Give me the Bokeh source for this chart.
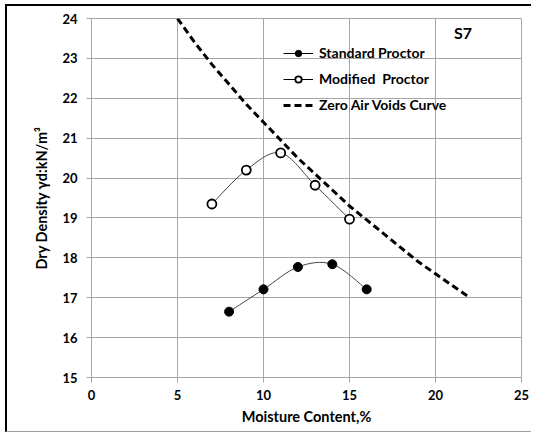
from bokeh.plotting import figure
from bokeh.models import (ColumnDataSource, Legend, LegendItem, Label,
                          FixedTicker, Range1d)
from bokeh.embed import file_html
from bokeh.resources import INLINE

# ---- data ----
std_w = [8, 10, 12, 14, 16]
std_d = [16.65, 17.21, 17.77, 17.84, 17.21]
mod_w = [7, 9, 11, 13, 15]
mod_d = [19.35, 20.20, 20.63, 19.82, 18.97]
zav_w = [5, 6, 7, 8, 9, 10, 11, 12, 13, 14, 15, 16, 17, 18, 19, 20, 21, 22]
zav_d = [24.0, 23.4, 22.85, 22.35, 21.85, 21.4, 20.95, 20.5, 20.1, 19.7,
         19.3, 18.95, 18.6, 18.25, 17.9, 17.6, 17.3, 17.0]
x_ticks = [0, 5, 10, 15, 20, 25]
y_ticks = [15, 16, 17, 18, 19, 20, 21, 22, 23, 24]

FONT = "Lato"
GRID = "#a6a6a6"


def smooth_segments(xs, ys):
    """Catmull-Rom style bezier control points (Excel-like smoothed line)."""
    n = len(xs)
    px = [xs[0]] + list(xs) + [xs[-1]]
    py = [ys[0]] + list(ys) + [ys[-1]]
    d = dict(x0=[], y0=[], x1=[], y1=[], cx0=[], cy0=[], cx1=[], cy1=[])
    for i in range(1, n):
        d["x0"].append(px[i]); d["y0"].append(py[i])
        d["x1"].append(px[i + 1]); d["y1"].append(py[i + 1])
        d["cx0"].append(px[i] + (px[i + 1] - px[i - 1]) / 6.0)
        d["cy0"].append(py[i] + (py[i + 1] - py[i - 1]) / 6.0)
        d["cx1"].append(px[i + 1] - (px[i + 2] - px[i]) / 6.0)
        d["cy1"].append(py[i + 1] - (py[i + 2] - py[i]) / 6.0)
    return ColumnDataSource(d)


p = figure(width=526, height=428, output_backend="svg", toolbar_location=None,
           x_range=Range1d(0, 25), y_range=Range1d(15, 24),
           min_border_left=84, min_border_right=12, min_border_top=12,
           min_border_bottom=57,
           styles={"border-top": "2px solid black",
                   "border-left": "2px solid black",
                   "border-bottom": "1px solid #a0a0a0",
                   "margin-left": "5px", "margin-top": "4px"})

p.background_fill_color = "white"
p.border_fill_color = "white"
p.outline_line_color = GRID
p.outline_line_width = 1

for ax in (p.xaxis[0], p.yaxis[0]):
    ax.axis_line_color = GRID
    ax.major_tick_line_color = GRID
    ax.major_tick_out = 5
    ax.major_tick_in = 0
    ax.minor_tick_line_color = None
    ax.major_label_text_font = FONT
    ax.major_label_text_font_style = "bold"
    ax.major_label_text_font_size = "13px"
    ax.major_label_text_color = "black"
    ax.axis_label_text_font = FONT
    ax.axis_label_text_font_style = "bold"
    ax.axis_label_text_font_size = "14.5px"
    ax.axis_label_text_color = "black"

p.xaxis.ticker = FixedTicker(ticks=x_ticks)
p.yaxis.ticker = FixedTicker(ticks=y_ticks)
p.xaxis.axis_label = "Moisture Content,%"
p.yaxis.axis_label = "Dry Density γd:kN/m³"
p.xaxis.major_label_standoff = 7
p.yaxis.major_label_standoff = 9
p.xaxis.axis_label_standoff = 5
p.yaxis.axis_label_standoff = 9

p.xgrid.ticker = FixedTicker(ticks=x_ticks)
p.ygrid.ticker = FixedTicker(ticks=y_ticks)
p.grid.grid_line_color = GRID
p.grid.grid_line_width = 1

# smoothed lines
p.bezier(x0="x0", y0="y0", x1="x1", y1="y1", cx0="cx0", cy0="cy0",
         cx1="cx1", cy1="cy1", source=smooth_segments(std_w, std_d),
         line_color="#444444", line_width=1)
p.bezier(x0="x0", y0="y0", x1="x1", y1="y1", cx0="cx0", cy0="cy0",
         cx1="cx1", cy1="cy1", source=smooth_segments(mod_w, mod_d),
         line_color="#444444", line_width=1)

zav = p.line(zav_w, zav_d, line_color="black", line_width=3,
             line_dash="7 4")

std_pts = p.scatter(std_w, std_d, marker="circle", size=9,
                    fill_color="black", line_color="black")
mod_pts = p.scatter(mod_w, mod_d, marker="circle", size=9,
                    fill_color="white", line_color="black", line_width=1.8)

# dummy line renderers for the legend glyphs
nan = float("nan")
std_leg = p.line([nan], [nan], line_color="black", line_width=1)
mod_leg = p.line([nan], [nan], line_color="black", line_width=1)

legend = Legend(items=[
    LegendItem(label="Standard Proctor", renderers=[std_leg, std_pts]),
    LegendItem(label="Modified  Proctor", renderers=[mod_leg, mod_pts]),
    LegendItem(label="Zero Air Voids Curve", renderers=[zav]),
], location=(192, 264), orientation="vertical")
legend.background_fill_alpha = 0
legend.border_line_color = None
legend.padding = 0
legend.margin = 0
legend.spacing = 9
legend.glyph_width = 30
legend.glyph_height = 16
legend.label_height = 16
legend.label_standoff = 6
legend.label_text_font = FONT
legend.label_text_font_style = "bold"
legend.label_text_font_size = "14px"
legend.label_text_color = "black"
p.add_layout(legend, "center")

p.add_layout(Label(x=21.6, y=23.65, text="S7", text_font=FONT,
                   text_font_style="bold", text_font_size="16px",
                   text_align="center", text_baseline="middle",
                   text_color="black"))

open("out.html", "w").write(file_html(p, INLINE))
